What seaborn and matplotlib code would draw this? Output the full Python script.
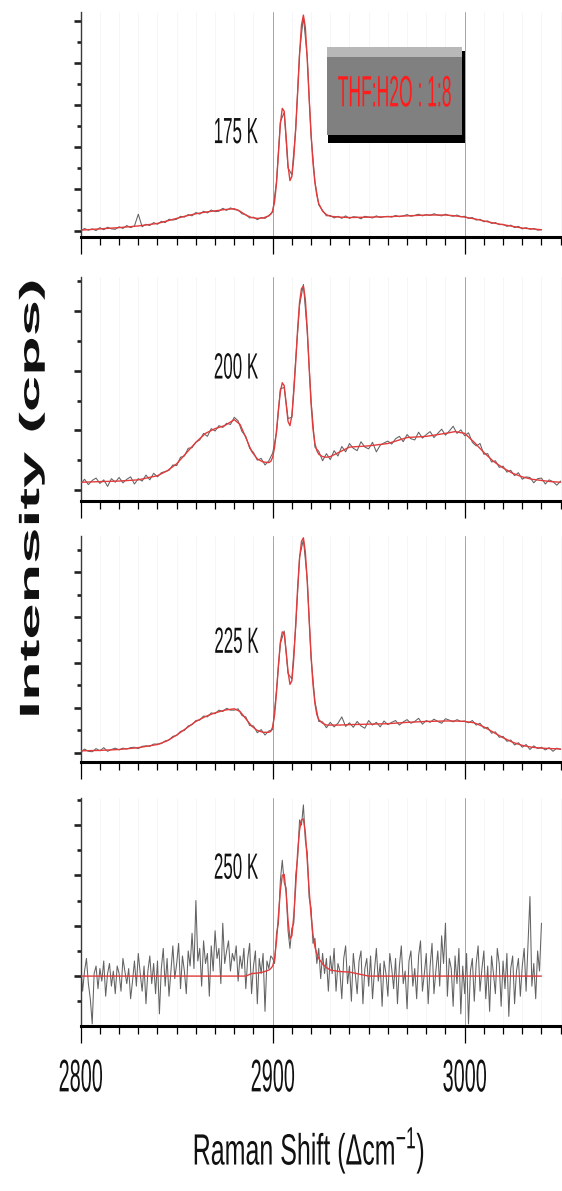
import numpy as np
import matplotlib
matplotlib.use("Agg")
import matplotlib.pyplot as plt
import seaborn as sns
from matplotlib import patheffects
from matplotlib.patches import Rectangle
from matplotlib.ticker import MultipleLocator
from matplotlib.transforms import Affine2D, blended_transform_factory

# ---------------------------------------------------------------- data
temperatures = ["175 K", "200 K", "225 K", "250 K"]
sample_label = "THF:H2O : 1:8"
x_tick_values = [2800, 2900, 3000]
x_tick_labels = ["2800", "2900", "3000"]
x_label = r"Raman Shift (Δcm$^{-1}$)"
y_label = "Intensity (cps)"

# Raman shift of the fitted curves (cm^-1)
shift_fit = [2800, 2810, 2820, 2830, 2840, 2845, 2850, 2855, 2860, 2865,
             2870, 2875, 2880, 2883, 2886, 2889, 2892, 2895, 2898, 2899,
             2900, 2901, 2902, 2903, 2904, 2905, 2906, 2907, 2908, 2909,
             2910, 2911, 2912, 2913, 2914, 2915, 2916, 2917, 2918, 2919,
             2920, 2921, 2922, 2923, 2924,
             2926, 2928, 2930, 2935, 2940, 2950, 2960, 2970, 2980, 2990,
             2995, 3000, 3005, 3010, 3015, 3020, 3025, 3030, 3035, 3040,
             3045, 3050]

fit_175K = [0.02, 0.05, 0.08, 0.12, 0.18, 0.24, 0.30, 0.36, 0.41, 0.45,
            0.48, 0.51, 0.53, 0.47, 0.38, 0.32, 0.30, 0.31, 0.36, 0.40,
            0.48, 0.70, 1.15, 1.85, 2.55, 2.92, 2.85, 2.25, 1.55, 1.20,
            1.30, 1.75, 2.45, 3.30, 4.20, 4.90, 5.14, 4.85, 4.10, 3.15,
            2.30, 1.62, 1.15, 0.85, 0.65,
            0.47, 0.39, 0.35, 0.33, 0.32, 0.33, 0.34, 0.36, 0.38, 0.38,
            0.36, 0.33, 0.29, 0.24, 0.19, 0.15, 0.11, 0.07, 0.05, 0.03]

fit_200K = [0.13, 0.14, 0.15, 0.17, 0.24, 0.32, 0.44, 0.62, 0.80, 0.95,
            1.03, 1.08, 1.18, 1.10, 0.88, 0.65, 0.52, 0.47, 0.46, 0.48,
            0.55, 0.72, 1.00, 1.35, 1.65, 1.80, 1.75, 1.45, 1.15, 1.08,
            1.25, 1.65, 2.15, 2.70, 3.15, 3.38, 3.42, 3.20, 2.70, 2.05,
            1.45, 1.02, 0.78, 0.66, 0.60,
            0.56, 0.55, 0.56, 0.64, 0.72, 0.74, 0.78, 0.88, 0.90, 0.95,
            0.98, 0.95, 0.80, 0.63, 0.48, 0.37, 0.28, 0.22, 0.18, 0.16,
            0.14, 0.13]

fit_225K = [0.05, 0.06, 0.08, 0.12, 0.19, 0.27, 0.40, 0.55, 0.70, 0.81,
            0.89, 0.95, 0.98, 0.92, 0.76, 0.60, 0.50, 0.46, 0.46, 0.48,
            0.58, 0.85, 1.35, 1.95, 2.45, 2.68, 2.65, 2.25, 1.80, 1.52,
            1.60, 2.10, 2.85, 3.65, 4.30, 4.68, 4.76, 4.45, 3.80, 2.95,
            2.15, 1.52, 1.10, 0.85, 0.74,
            0.66, 0.62, 0.62, 0.62, 0.63, 0.64, 0.65, 0.68, 0.70, 0.71,
            0.71, 0.70, 0.67, 0.58, 0.46, 0.34, 0.24, 0.17, 0.13, 0.11,
            0.10, 0.09]

fit_250K = [0.00, 0.00, 0.00, 0.00, 0.00, 0.00, 0.00, 0.00, 0.00, 0.00,
            0.00, 0.00, 0.00, 0.00, 0.00, 0.05, 0.06, 0.08, 0.12, 0.15,
            0.20, 0.35, 0.70, 1.20, 1.70, 2.00, 2.02, 1.65, 1.10, 0.74,
            0.80, 1.20, 1.80, 2.45, 2.90, 3.10, 3.12, 2.85, 2.30, 1.70,
            1.20, 0.82, 0.58, 0.44, 0.35,
            0.24, 0.17, 0.12, 0.09, 0.08, 0.00, 0.00, 0.00, 0.00, 0.00,
            0.00, 0.00, 0.00, 0.00, 0.00, 0.00, 0.00, 0.00, 0.00, 0.00]

# measured spectra (raw counts, arbitrary units)
shift_raw_175K = np.arange(2800, 3041, 2)
raw_175K = [0.00, 0.06, 0.02, 0.05, 0.01, 0.08, 0.03, 0.09, 0.05, 0.04,
            0.10, 0.06, 0.13, 0.08, 0.12, 0.40, 0.10, 0.16, 0.13, 0.20,
            0.16, 0.23, 0.20, 0.28, 0.26, 0.28, 0.35, 0.33, 0.39, 0.36,
            0.44, 0.40, 0.47, 0.43, 0.50, 0.46, 0.47, 0.54, 0.49, 0.55,
            0.51, 0.50, 0.41, 0.39, 0.31, 0.33, 0.27, 0.32, 0.30, 0.37,
            0.45, 1.18, 2.60, 2.82, 1.50, 1.34, 2.42, 4.25, 5.10, 4.14,
            2.26, 1.18, 0.62, 0.49, 0.36, 0.37, 0.31, 0.35, 0.30, 0.36,
            0.30, 0.34, 0.33, 0.29, 0.35, 0.33, 0.31, 0.36, 0.32, 0.34,
            0.35, 0.33, 0.37, 0.34, 0.36, 0.39, 0.35, 0.37, 0.40, 0.36,
            0.39, 0.37, 0.41, 0.38, 0.36, 0.40, 0.37, 0.35, 0.38, 0.34,
            0.35, 0.30, 0.32, 0.26, 0.28, 0.22, 0.24, 0.18, 0.20, 0.15,
            0.16, 0.11, 0.14, 0.08, 0.11, 0.05, 0.08, 0.04, 0.06, 0.02,
            0.03]

shift_raw_200K = np.arange(2800, 3051, 2)
raw_200K = [0.10, 0.18, 0.09, 0.16, 0.20, 0.11, 0.17, 0.06, 0.19, 0.13,
            0.21, 0.12, 0.18, 0.22, 0.10, 0.19, 0.15, 0.25, 0.17, 0.28,
            0.22, 0.29, 0.31, 0.33, 0.42, 0.41, 0.55, 0.57, 0.70, 0.71,
            0.80, 0.84, 0.95, 0.90, 1.03, 0.99, 1.08, 1.05, 1.12, 1.10,
            1.22, 1.16, 0.98, 0.90, 0.70, 0.63, 0.50, 0.53, 0.42, 0.49,
            0.62, 0.96, 1.70, 1.72, 1.20, 1.22, 2.20, 3.10, 3.45, 2.66,
            1.50, 0.72, 0.65, 0.49, 0.61, 0.51, 0.66, 0.57, 0.73, 0.64,
            0.78, 0.70, 0.66, 0.81, 0.72, 0.69, 0.80, 0.64, 0.75, 0.79,
            0.82, 0.77, 0.86, 0.90, 0.81, 0.93, 0.86, 0.84, 0.97, 0.87,
            0.93, 0.98, 0.88, 0.95, 1.02, 0.92, 0.99, 1.07, 0.95, 1.01,
            0.91, 0.96, 0.80, 0.74, 0.78, 0.60, 0.61, 0.47, 0.49, 0.38,
            0.40, 0.30, 0.33, 0.24, 0.29, 0.18, 0.22, 0.21, 0.12, 0.19,
            0.20, 0.10, 0.17, 0.14, 0.08, 0.15]

shift_raw_225K = np.arange(2800, 3051, 2)
raw_225K = [0.02, 0.09, 0.04, 0.03, 0.10, 0.05, 0.12, 0.04, 0.08, 0.11,
            0.07, 0.11, 0.09, 0.12, 0.13, 0.10, 0.15, 0.16, 0.15, 0.20,
            0.20, 0.21, 0.27, 0.29, 0.37, 0.39, 0.48, 0.50, 0.60, 0.63,
            0.72, 0.73, 0.82, 0.80, 0.89, 0.87, 0.95, 0.92, 0.99, 0.95,
            0.95, 0.98, 0.83, 0.80, 0.61, 0.60, 0.45, 0.52, 0.40, 0.49,
            0.52, 1.40, 2.42, 2.70, 1.76, 1.64, 2.80, 4.34, 4.72, 3.85,
            2.10, 1.15, 0.70, 0.69, 0.56, 0.68, 0.58, 0.66, 0.80, 0.59,
            0.67, 0.57, 0.70, 0.60, 0.55, 0.72, 0.62, 0.68, 0.58, 0.71,
            0.63, 0.68, 0.72, 0.62, 0.69, 0.74, 0.66, 0.70, 0.77, 0.64,
            0.72, 0.68, 0.75, 0.70, 0.66, 0.76, 0.73, 0.69, 0.74, 0.70,
            0.71, 0.67, 0.72, 0.62, 0.66, 0.55, 0.57, 0.44, 0.47, 0.35,
            0.37, 0.26, 0.29, 0.18, 0.23, 0.13, 0.19, 0.08, 0.16, 0.10,
            0.13, 0.07, 0.12, 0.04, 0.11, 0.08]

shift_raw_250K = np.arange(2800, 3041, 1)
raw_250K = [0.25, -0.30, 0.10, 0.35, -0.15, -0.45, -0.95, 0.05, 0.20, -0.25,
            0.15, -0.10, 0.30, -0.40, 0.05, 0.25, -0.20, 0.10, -0.35, 0.20,
            0.05, -0.30, 0.35, 0.10, -0.15, 0.15, -0.45, -0.10, 0.30, -0.20,
            0.45, 0.05, -0.30, 0.20, -0.55, 0.10, 0.40, -0.15, 0.25, -0.35,
            0.30, -0.75, 0.15, 0.55, -0.20, 0.35, -0.40, 0.10, 0.60, -0.05,
            0.25, 0.65, -0.25, 0.40, 0.10, -0.35, 0.50, 0.20, 0.85, 0.15,
            1.50, 0.30, 0.55, -0.20, 0.70, 0.25, 0.45, -0.40, 0.60, 0.10,
            0.90, 0.35, 0.55, -0.15, 1.05, 0.25, 0.50, 0.70, 0.10, 0.45,
            0.30, 0.60, -0.10, 0.40, 0.15, 0.55, -0.25, 0.35, 0.65, -0.35,
            0.20, 0.50, -0.55, 0.35, 0.05, 0.45, -0.70, 0.30, 0.15, 0.40,
            0.35, 0.25, 0.85, 1.05, 1.90, 2.30, 1.85, 1.75, 0.90, 0.55,
            0.95, 1.05, 2.00, 2.35, 3.10, 3.00, 3.40, 2.70, 2.45, 1.55,
            1.35, 0.65, 0.75, 0.25, 0.55, -0.05, 0.45, 0.05, 0.35, -0.30,
            0.40, 0.05, 0.55, -0.30, 0.25, 0.10, -0.45, 0.35, 0.60, -0.15,
            0.20, -0.50, 0.45, 0.05, -0.35, 0.30, 0.50, -0.55, 0.15, 0.35,
            -0.20, 0.40, -0.45, 0.10, 0.55, -0.10, 0.25, -0.60, 0.30, 0.05,
            -0.40, 0.45, 0.15, -0.25, 0.35, -0.55, 0.20, 0.60, -0.15, 0.10,
            -0.65, 0.30, 0.50, -0.20, 0.15, -0.45, 0.40, 0.70, -0.30, 0.05,
            0.45, -0.55, 0.20, 0.65, -0.35, 0.10, 0.50, -0.20, 0.80, 0.25,
            1.05, -0.40, 0.35, 0.15, -0.60, 0.40, -0.15, 0.55, -0.75, 0.20,
            -0.35, 0.45, -0.95, 0.10, 0.35, -0.50, 0.25, 0.60, -0.30, 0.15,
            0.50, -0.45, 0.20, -0.70, 0.40, 0.05, -0.35, 0.55, 0.25, -0.60,
            0.30, -0.25, 0.45, -0.80, 0.15, 0.40, -0.55, 0.10, 0.35, -0.40,
            0.20, 0.55, -0.30, 0.65, 1.58, -0.20, 0.25, -0.45, 0.50, 0.10,
            1.05]

spectra = [
    (shift_raw_175K, raw_175K, fit_175K),
    (shift_raw_200K, raw_200K, fit_200K),
    (shift_raw_225K, raw_225K, fit_225K),
    (shift_raw_250K, raw_250K, fit_250K),
]

# ---------------------------------------------------------------- style
sns.set_theme(style="white")
plt.rcParams["font.family"] = ["Liberation Sans", "DejaVu Sans"]
plt.rcParams["mathtext.fontset"] = "custom"
plt.rcParams["mathtext.rm"] = "Liberation Sans"
plt.rcParams["mathtext.it"] = "Liberation Sans:italic"
plt.rcParams["mathtext.bf"] = "Liberation Sans:bold"

RAW_COLOR = "#626262"
FIT_COLOR = "#e23b3b"
GRID_COLOR = "#9c9ce6"


class GlyphStretch(patheffects.AbstractPathEffect):
    """Scale glyph outlines about their own centre (tall, narrow lettering)."""

    def __init__(self, sx=1.0, sy=1.0):
        super().__init__()
        self.sx, self.sy = sx, sy

    def draw_path(self, renderer, gc, tpath, affine, rgbFace=None):
        ext = tpath.get_extents()
        cx, cy = (ext.x0 + ext.x1) / 2, (ext.y0 + ext.y1) / 2
        pre = (Affine2D().translate(-cx, -cy)
               .scale(self.sx, self.sy).translate(cx, cy))
        renderer.draw_path(gc, tpath, pre + affine, rgbFace)


W, H, DPI = 562, 1191, 100
fig = plt.figure(figsize=(W / DPI, H / DPI), dpi=DPI)
fig.patch.set_facecolor("white")


def fx(px):
    return px / W


def fy(py):
    return 1 - py / H


LEFT = 80.7
panel_px = [(12.0, 236.7), (276.7, 500.7), (536.0, 761.7), (798.3, 1025.7)]
y_limits = [(-0.136, 5.214), (-0.18, 3.58), (-0.19, 4.80), (-0.985, 3.53)]
label_px = [(235.8, 132.0), (236.0, 367.3), (236.6, 641.6), (236.1, 867.5)]

axes = []
for (top, bot), ylim, (xr, yr, fit) in zip(panel_px, y_limits, spectra):
    ax = fig.add_axes([fx(LEFT), fy(bot), 1 - fx(LEFT), (bot - top) / H])
    ax.set_facecolor("white")
    sns.lineplot(x=xr, y=yr, ax=ax, color=RAW_COLOR, lw=0.75,
                 estimator=None, sort=False, zorder=2)
    sns.lineplot(x=shift_fit[:len(fit)], y=fit, ax=ax, color=FIT_COLOR,
                 lw=1.0, estimator=None, sort=False, zorder=3)
    ax.set_xlim(2800, 3050.7)
    ax.set_ylim(*ylim)
    ax.set_xlabel("")
    ax.set_ylabel("")

    ax.xaxis.set_major_locator(MultipleLocator(100))
    ax.xaxis.set_minor_locator(MultipleLocator(10))
    ax.yaxis.set_major_locator(MultipleLocator(1))
    ax.yaxis.set_minor_locator(MultipleLocator(0.5))
    ax.grid(False)
    ax.grid(axis="x", which="minor", color="#f5f5f7", lw=0.6, zorder=0)
    ax.grid(axis="x", which="major", color=GRID_COLOR, lw=0.7, zorder=1)
    ax.set_axisbelow(True)

    for side in ("top", "right"):
        ax.spines[side].set_visible(False)
    ax.spines["bottom"].set_color("black")
    ax.spines["bottom"].set_linewidth(2.2)
    ax.spines["left"].set_color("#3a3a3a")
    ax.spines["left"].set_linewidth(1.0)

    ax.tick_params(axis="x", which="major", direction="out", length=12.5,
                   width=0.9, color="black", bottom=True, labelbottom=False)
    ax.tick_params(axis="x", which="minor", direction="out", length=5.5,
                   width=0.9, color="black", bottom=True)
    ax.tick_params(axis="y", which="major", direction="out", length=5.3,
                   width=1.9, color="#222222", left=True, labelleft=False)
    ax.tick_params(axis="y", which="minor", direction="out", length=3.0,
                   width=1.9, color="#222222", left=True)
    axes.append(ax)

# temperature labels
for (px, py), name in zip(label_px, temperatures):
    fig.text(fx(px), fy(py), name, ha="center", va="center", fontsize=12.2,
             color="#111111", path_effects=[GlyphStretch(sy=2.15)])

# bottom tick labels
tick_tr = blended_transform_factory(axes[-1].transData, fig.transFigure)
for val, lab in zip(x_tick_values, x_tick_labels):
    axes[-1].text(val, fy(1077), lab, transform=tick_tr, ha="center",
                  va="center", fontsize=14.3, color="#111111", clip_on=False,
                  path_effects=[GlyphStretch(sy=2.3)])

# axis titles
fig.text(fx(309), fy(1150), x_label, ha="center", va="center",
         fontsize=18, color="#111111", path_effects=[GlyphStretch(sy=1.75)])
fig.text(fx(32), fy(498.5), y_label, rotation=90, ha="center", va="center",
         fontsize=20, fontweight="bold", color="#111111",
         path_effects=[GlyphStretch(sx=2.34)])

# sample tag: bevelled grey plate with red lettering
plate = [
    ((326.7, 47.3), (461.7, 56.7), "#b8b8b8"),
    ((326.7, 56.7), (461.7, 135.0), "#808080"),
    ((461.7, 51.5), (465.3, 143.3), "#000000"),
    ((328.0, 135.0), (465.3, 143.3), "#000000"),
]
for (x0, y0), (x1, y1), col in plate:
    fig.add_artist(Rectangle((fx(x0), fy(y1)), fx(x1) - fx(x0), fy(y0) - fy(y1),
                             transform=fig.transFigure, facecolor=col,
                             edgecolor="none", zorder=5))
fig.text(fx(394.5), fy(92.8), sample_label, ha="center", va="center",
         fontsize=12.6, color="#ff1c1c", zorder=6,
         path_effects=[GlyphStretch(sy=2.5)])

fig.savefig("out.png", dpi=DPI, facecolor="white")
